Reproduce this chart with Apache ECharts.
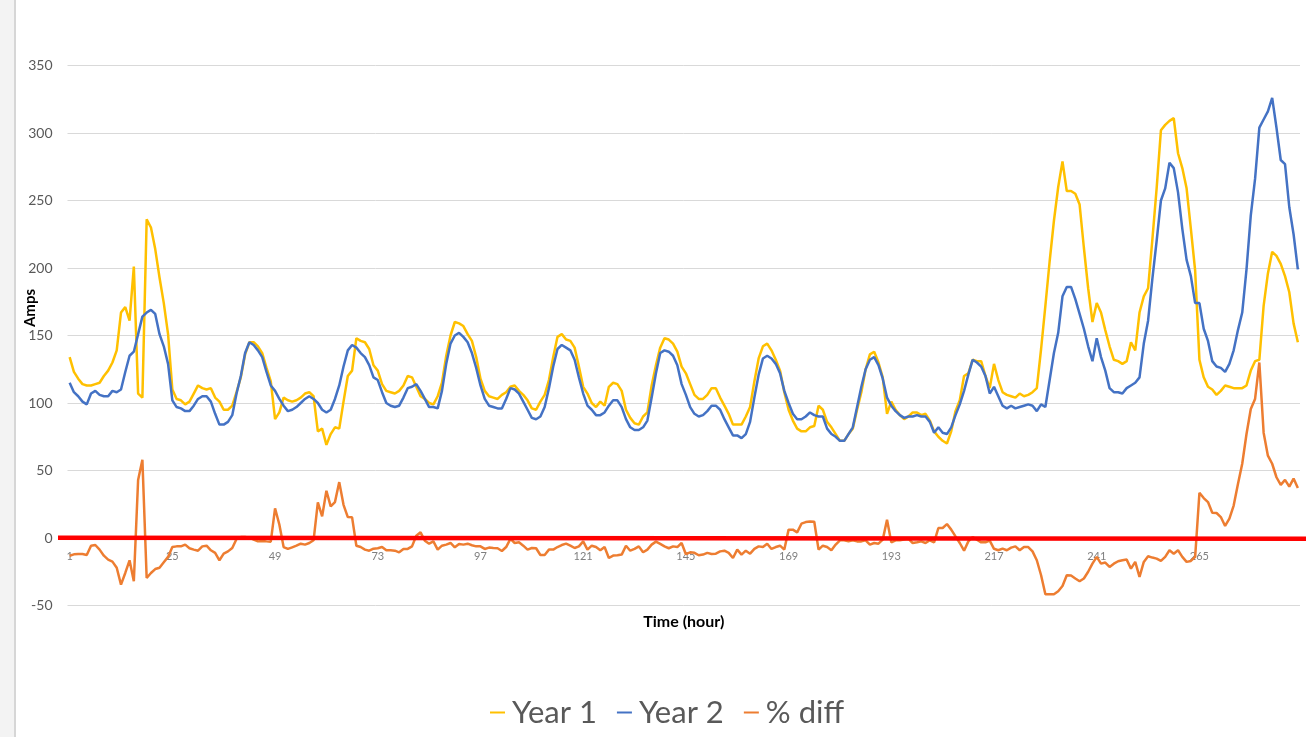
<!DOCTYPE html>
<html>
<head>
<meta charset="utf-8">
<script src="https://cdn.jsdelivr.net/npm/echarts@6/dist/echarts.min.js"></script>
<style>
html,body{margin:0;padding:0;background:#fff;}
#chart{width:1306px;height:737px;}
</style>
</head>
<body>
<div id="chart"></div>
<script>
// Hours 1..288 (category labels)
var hours = [];
for (var i = 1; i <= 288; i++) hours.push(String(i));

var yTicks = { min: -50, max: 350, interval: 50 };

var year1 = [
134,123,118,114,113,113,114,115,120,124,130,139,
167,171,161,201,107,104,236,230,214,193,174,151,
110,103,102,99,101,107,113,111,110,111,104,101,
95,95,98,108,119,136,145,145,142,137,126,116,
88,93,104,102,101,102,104,107,108,105,79,81,
69,77,82,81,101,120,124,148,146,145,140,128,
124,114,109,108,107,109,113,120,119,112,105,103,
100,99,105,115,135,150,160,159,157,151,146,134,
118,109,105,104,103,106,108,112,113,109,106,102,
96,95,101,106,117,134,149,151,147,146,141,127,
112,107,100,97,101,98,112,115,114,109,95,89,
85,84,90,93,113,128,141,148,147,144,138,127,
122,114,106,103,103,106,111,111,104,98,92,84,
84,84,90,97,116,133,142,144,139,132,124,108,
95,87,81,79,79,82,83,98,95,86,82,77,
72,72,77,81,95,108,125,136,138,130,119,92,
101,95,91,88,90,93,93,91,92,87,79,75,
72,70,79,94,102,120,122,132,131,131,120,111,
129,117,108,106,105,104,107,105,106,108,111,140,
172,205,235,260,279,257,257,255,247,215,185,160,
174,167,154,142,132,131,129,131,145,139,167,179,
185,221,259,302,306,309,311,285,274,259,229,198,
132,119,112,110,106,109,113,112,111,111,111,113,
124,131,132,172,196,212,209,203,194,182,159,145
];

var year2 = [
115,108,105,101,99,107,109,106,105,105,109,108,
110,123,135,138,151,164,167,169,166,151,142,129,
102,97,96,94,94,98,103,105,105,101,92,84,
84,86,91,107,120,137,145,143,139,134,123,113,
109,103,98,94,95,97,100,103,105,103,100,95,
93,95,103,113,127,139,143,141,137,134,128,119,
117,108,100,98,97,98,104,111,112,114,109,103,
97,97,96,109,129,144,150,152,149,145,137,126,
113,103,98,97,96,96,103,111,110,107,101,95,
89,88,90,97,111,127,140,143,141,139,132,119,
107,98,95,91,91,93,98,102,102,97,88,82,
80,80,82,87,104,122,137,139,138,135,128,114,
106,97,92,90,91,94,98,98,95,88,82,76,
76,74,77,86,104,121,133,135,133,129,122,109,
100,92,88,88,90,93,91,90,90,81,77,75,
72,72,77,82,97,112,125,132,134,128,118,104,
98,94,91,89,90,90,91,90,90,86,78,82,
78,77,82,91,99,109,121,132,130,127,120,107,
112,105,98,96,98,96,97,98,99,98,94,99,
97,117,137,152,179,186,186,177,166,155,142,131,
148,134,124,111,108,108,107,111,113,115,119,144,
161,192,220,250,259,278,274,256,229,206,194,174,
174,155,146,131,127,126,123,129,139,154,167,199,
239,266,304,310,316,326,304,280,277,245,225,199
];

var pctDiff = [
-13.1,-12.1,-11.8,-11.8,-12.6,-5.7,-5.2,-8.6,-13.1,-16,-17.5,-22,
-34.5,-25.9,-16.5,-32,43,58,-29.6,-25.9,-23,-22,-18,-14,
-6.7,-6.2,-6.2,-4.9,-7.6,-8.6,-9.4,-6.2,-5.7,-9.1,-11,-16.5,
-11.6,-9.9,-7.4,-0.7,0.7,0.7,0.2,-1.2,-2.5,-2.2,-2.5,-2.7,
22,10,-6.7,-8.1,-6.9,-5.7,-4.2,-4.9,-3.7,-1.7,26.4,16,
35,23.4,26.6,41.4,24.6,15.5,15.3,-5.7,-6.7,-8.6,-9.4,-7.9,
-7.6,-6.7,-9.1,-9.1,-9.4,-10.6,-8.1,-8.1,-6.2,1.7,4.2,-2,
-4.2,-2.5,-8.6,-5.7,-4.9,-3.7,-6.9,-4.4,-4.9,-4.2,-5.4,-6.2,
-6.2,-8.1,-7.1,-7.4,-7.6,-9.6,-6.7,-0.7,-3.7,-3.2,-5.7,-8.6,
-7.4,-7.6,-12.6,-12.6,-8.6,-8.6,-6.7,-5.2,-4.2,-5.7,-7.4,-6.2,
-2.5,-8.6,-5.7,-6.7,-9.1,-6.7,-14.8,-13,-12.8,-12.3,-5.7,-9.4,
-8.1,-6.2,-10.6,-8.6,-4.9,-2.7,-4.4,-6.2,-7.6,-6.2,-6.7,-3.7,
-12,-10.6,-11,-12.8,-12.3,-11,-11.8,-11.6,-9.9,-9.4,-11,-14.8,
-8.6,-12.3,-9.4,-11.6,-8.1,-6.2,-6.7,-4.2,-8.1,-6.7,-5.7,-8.6,
6.2,6.2,4.2,10.6,11.8,12.3,12,-8.6,-5.7,-6.7,-9.1,-4.9,
-1.7,-1.7,-2.5,-1.7,-2.5,-2.5,-1.7,-4.9,-3.7,-4.2,-1.2,13.5,
-3.2,-1.7,-1.7,-1.2,-0.7,-3.7,-3.2,-2.5,-3.7,-1.7,-3.2,7.4,
7.4,10.3,6.2,1.2,-3.7,-9.4,-2.5,0.7,-1.2,-3.2,-3.2,-2,
-8,-9.1,-7.9,-9.1,-7.1,-6.2,-9.1,-6.7,-6.7,-9.9,-16.5,-27.6,
-41.6,-41.6,-41.6,-39.4,-35.5,-27.6,-27.8,-30,-32,-30,-25,-19,
-14,-19,-18.2,-21.4,-19,-17.2,-16.5,-16,-22.7,-17.7,-28.8,-17.7,
-13.5,-14.5,-15.3,-17,-14,-9.1,-11.6,-9.1,-14,-17.7,-17,-14,
33.5,29.6,26.6,18.7,18.5,15.5,8.9,14.3,24,40,55,77,
95.6,103,130,78,61,55,45,39.4,43,38,44,37
];

// zero reference line (start, end)
var zeroLine = [0.2, -0.5];

var FONT = 'Lato, "Open Sans", sans-serif';

var chart = echarts.init(document.getElementById('chart'), null, {renderer: 'canvas'});

chart.setOption({
  backgroundColor: '#ffffff',
  animation: false,
  grid: [
    {left: 67.5, right: 6, top: 65.5, height: 540, containLabel: false},
    {left: 58, right: 0, top: 65.5, height: 540, containLabel: false}
  ],
  legend: {
    data: ['Year 1', 'Year 2', '% diff'],
    left: 485,
    top: 692,
    icon: 'rect',
    itemWidth: 15,
    itemHeight: 2,
    itemGap: 20,
    textStyle: {fontSize: 31, color: '#595959', fontFamily: FONT, padding: [0, 0, 0, 2]}
  },
  graphic: [
    {type: 'rect', shape: {x: 0, y: 0, width: 14, height: 737}, style: {fill: '#F3F3F3'}, z: 100},
    {type: 'rect', shape: {x: 14, y: 0, width: 2, height: 737}, style: {fill: '#D6D6D6'}, z: 100},
    {type: 'text', x: 30, y: 308, rotation: Math.PI / 2,
     style: {text: 'Amps', fill: '#000', font: 'bold 15px ' + FONT, align: 'center', verticalAlign: 'middle'}, z: 100}
  ],
  xAxis: [
    {
      type: 'category',
      gridIndex: 0,
      data: hours,
      boundaryGap: true,
      position: 'bottom',
      offset: -67.5,
      axisLine: {show: true, onZero: false, lineStyle: {color: '#D9D9D9', width: 1}},
      axisTick: {show: false},
      axisLabel: {interval: 23, fontSize: 11, color: '#7F7F7F', fontFamily: FONT, margin: 13},
      splitLine: {show: false},
      name: 'Time (hour)',
      nameLocation: 'middle',
      nameGap: 76,
      nameTextStyle: {fontSize: 16, fontWeight: 'bold', color: '#000', fontFamily: FONT}
    },
    {
      type: 'category',
      gridIndex: 1,
      data: ['s', 'e'],
      boundaryGap: false,
      show: false
    }
  ],
  yAxis: [
    {
      type: 'value',
      gridIndex: 0,
      min: yTicks.min,
      max: yTicks.max,
      interval: yTicks.interval,
      axisLine: {show: false},
      axisTick: {show: false},
      axisLabel: {fontSize: 14, color: '#595959', fontFamily: FONT, margin: 15},
      splitLine: {lineStyle: {color: '#D9D9D9', width: 1}}
    },
    {
      type: 'value',
      gridIndex: 1,
      min: yTicks.min,
      max: yTicks.max,
      show: false,
      splitLine: {show: false}
    }
  ],
  series: [
    {
      name: 'Year 1', type: 'line', data: year1, symbol: 'none', smooth: false,
      xAxisIndex: 0, yAxisIndex: 0,
      lineStyle: {color: '#FFC000', width: 2.5}, itemStyle: {color: '#FFC000'}, z: 2
    },
    {
      name: 'Year 2', type: 'line', data: year2, symbol: 'none', smooth: false,
      xAxisIndex: 0, yAxisIndex: 0,
      lineStyle: {color: '#4472C4', width: 2.5}, itemStyle: {color: '#4472C4'}, z: 3
    },
    {
      name: '% diff', type: 'line', data: pctDiff, symbol: 'none', smooth: false,
      xAxisIndex: 0, yAxisIndex: 0,
      lineStyle: {color: '#ED7D31', width: 2.5}, itemStyle: {color: '#ED7D31'}, z: 4
    },
    {
      name: 'zero', type: 'line', data: zeroLine, symbol: 'none',
      xAxisIndex: 1, yAxisIndex: 1, silent: true,
      lineStyle: {color: '#FF0000', width: 4.5}, itemStyle: {color: '#FF0000'}, z: 5
    }
  ]
});
</script>
</body>
</html>
